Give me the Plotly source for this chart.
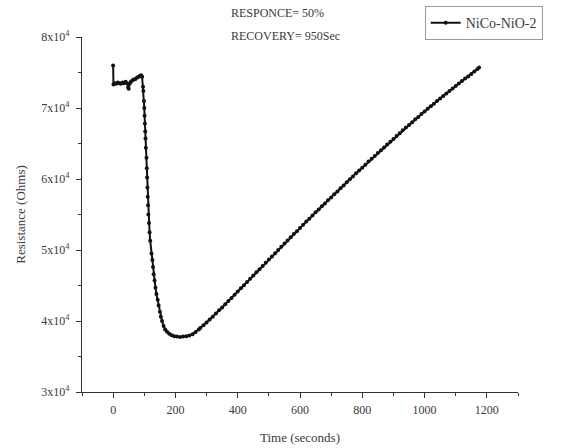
import plotly.graph_objects as go

# ---- data ----
time_s = [
    0, 1, 5, 10, 15, 20, 25, 30, 35, 40, 45, 48, 50, 53, 57, 62, 67, 72, 77, 82, 86, 90, 93,
    96, 97, 99, 100, 101, 102, 103, 104, 105, 107, 108, 109, 110, 111, 112, 113, 115, 117, 119,
    123, 126, 128, 130, 133, 136, 139, 143, 146, 150, 153, 157, 162, 167, 173, 180, 188, 196,
    205, 215, 225, 235, 245, 255, 265, 275,
    280, 290, 300, 310, 320, 330, 340, 350, 360, 370, 380, 390, 400, 410, 420, 430, 440, 450,
    460, 470, 480, 490, 500, 510, 520, 530, 540, 550, 560, 570, 580, 590, 600, 610, 620, 630,
    640, 650, 660, 670, 680, 690, 700, 710, 720, 730, 740, 750, 760, 770, 780, 790, 800, 810,
    820, 830, 840, 850, 860, 870, 880, 890, 900, 910, 920, 930, 940, 950, 960, 970, 980, 990,
    1000, 1010, 1020, 1030, 1040, 1050, 1060, 1070, 1080, 1090, 1100, 1110, 1120, 1130, 1140,
    1150, 1160, 1170, 1175,
]
resistance = [
    76000, 73300, 73500, 73400, 73600, 73500, 73400, 73600, 73500, 73700, 73500, 72900, 72700,
    73400, 73700, 73900, 74000, 74100, 74300, 74400, 74500, 74600, 74400,
    73000, 72400, 71000, 70000, 68900, 67800, 66700, 65700, 64400, 63000, 61500, 60200, 58800,
    57500, 56300, 55000, 53800, 52500, 51300,
    49500, 48600, 47600, 46600, 45700, 44700, 43800, 43000, 42200, 41300, 40600, 40000, 39300,
    38800, 38500, 38200, 38000, 37850, 37800, 37750, 37800, 37850, 37950, 38150, 38450, 38800,
    39000, 39400, 39800, 40200, 40600, 41050, 41500, 41900, 42350, 42800, 43250, 43700, 44150,
    44600, 45050, 45500, 45950, 46400, 46850, 47300, 47750, 48200, 48650, 49100, 49550, 50000,
    50450, 50900, 51350, 51800, 52250, 52650, 53100, 53550, 54000, 54400, 54850, 55300, 55700,
    56150, 56550, 57000, 57400, 57850, 58250, 58700, 59100, 59550, 59950, 60350, 60800, 61200,
    61600, 62000, 62450, 62850, 63250, 63650, 64050, 64450, 64850, 65250, 65650, 66050, 66450,
    66850, 67250, 67600, 68000, 68400, 68750, 69150, 69500, 69900, 70250, 70600, 71000, 71350,
    71700, 72050, 72400, 72750, 73100, 73450, 73800, 74150, 74450, 74800, 75150, 75500, 75700,
]
y_tick_values = [30000, 40000, 50000, 60000, 70000, 80000]
y_tick_labels = ["3x10<sup>4</sup>", "4x10<sup>4</sup>", "5x10<sup>4</sup>",
                 "6x10<sup>4</sup>", "7x10<sup>4</sup>", "8x10<sup>4</sup>"]
series_name = "NiCo-NiO-2"
notes = ["RESPONCE= 50%", "RECOVERY= 950Sec"]

FONT = "Liberation Serif, Times New Roman, serif"
TXT = "#3a3a3a"
AX = "#333333"

fig = go.Figure()
fig.add_trace(go.Scatter(
    x=time_s, y=resistance, mode="lines+markers", name=series_name,
    line=dict(color="#111111", width=2),
    marker=dict(color="#111111", size=4, symbol="circle"),
))

fig.update_layout(
    width=561, height=448,
    margin=dict(l=82, r=43, t=37, b=56, autoexpand=False),
    paper_bgcolor="white", plot_bgcolor="white",
    font=dict(family=FONT, size=12, color=TXT),
    showlegend=True,
    legend=dict(
        x=0.786, y=1.087, xanchor="left", yanchor="top",
        bordercolor="#9a9a9a", borderwidth=1, bgcolor="white",
        font=dict(family=FONT, size=14, color=TXT),
        itemwidth=30, tracegroupgap=0,
    ),
    annotations=[
        dict(text=notes[0], xref="paper", yref="paper", x=0.337, y=1.069,
             xanchor="left", yanchor="middle", showarrow=False,
             font=dict(family=FONT, size=12, color=TXT)),
        dict(text=notes[1], xref="paper", yref="paper", x=0.337, y=1.004,
             xanchor="left", yanchor="middle", showarrow=False,
             font=dict(family=FONT, size=12, color=TXT)),
    ],
)

fig.update_xaxes(
    range=[-100, 1300], tick0=0, dtick=200, automargin=False,
    showgrid=False, zeroline=False,
    showline=True, linecolor=AX, linewidth=1.3,
    ticks="outside", ticklen=5, tickcolor=AX, tickwidth=1,
    ticklabelstandoff=1,
    tickfont=dict(family=FONT, size=12, color=TXT),
    minor=dict(ticks="outside", ticklen=3, tickcolor=AX, tick0=0, dtick=100, showgrid=False),
    title=dict(text="Time (seconds)", font=dict(family=FONT, size=13, color=TXT), standoff=17),
)
fig.update_yaxes(
    range=[30000, 80000], tickmode="array", automargin=False,
    tickvals=y_tick_values, ticktext=y_tick_labels,
    showgrid=False, zeroline=False,
    showline=True, linecolor=AX, linewidth=1.3,
    ticks="outside", ticklen=5, tickcolor=AX, tickwidth=1,
    ticklabelstandoff=4,
    tickfont=dict(family=FONT, size=12, color=TXT),
    minor=dict(ticks="outside", ticklen=3, tickcolor=AX, tickmode="linear",
               tick0=30000, dtick=5000, showgrid=False),
    title=dict(text="Resistance (Ohms)", font=dict(family=FONT, size=13, color=TXT), standoff=12),
)

fig.write_html("out.html")
